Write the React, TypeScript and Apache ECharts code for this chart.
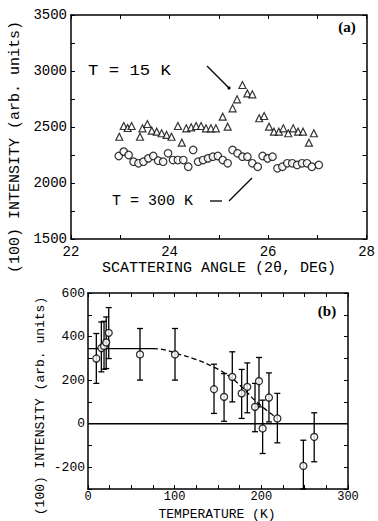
import React, { useEffect, useRef } from "react";
import * as echarts from "echarts";

// Panel (a): scattering angle scans
const angle15K = [22.98, 23.07, 23.15, 23.23, 23.40, 23.45, 23.55, 23.64, 23.74, 23.84, 23.94, 24.04, 24.17, 24.25, 24.34, 24.44, 24.54, 24.64, 24.74, 24.84, 24.94, 25.08, 25.18, 25.28, 25.37, 25.48, 25.58, 25.68, 25.82, 25.92, 26.02, 26.12, 26.22, 26.31, 26.41, 26.51, 26.61, 26.71, 26.83, 26.93];
const intensity15K = [2413, 2509, 2491, 2509, 2413, 2488, 2527, 2467, 2458, 2444, 2429, 2413, 2509, 2360, 2488, 2497, 2509, 2509, 2488, 2488, 2488, 2592, 2503, 2667, 2747, 2875, 2800, 2792, 2578, 2598, 2503, 2458, 2458, 2488, 2444, 2488, 2458, 2458, 2360, 2444];
const angle300K = [22.97, 23.07, 23.17, 23.27, 23.37, 23.47, 23.57, 23.67, 23.77, 23.87, 23.97, 24.07, 24.17, 24.28, 24.38, 24.48, 24.58, 24.68, 24.78, 24.88, 24.98, 25.08, 25.18, 25.28, 25.38, 25.48, 25.58, 25.68, 25.79, 25.89, 25.99, 26.09, 26.19, 26.29, 26.39, 26.49, 26.59, 26.69, 26.79, 26.89, 27.03];
const intensity300K = [2241, 2280, 2250, 2190, 2176, 2190, 2220, 2241, 2199, 2190, 2265, 2205, 2205, 2205, 2145, 2295, 2190, 2205, 2220, 2235, 2241, 2205, 2176, 2295, 2265, 2235, 2235, 2176, 2145, 2241, 2220, 2235, 2131, 2145, 2176, 2176, 2161, 2176, 2176, 2145, 2161];

// Panel (b): temperature dependence
const temps = [9.6, 15.4, 18.5, 21, 23.9, 60, 100.4, 145.4, 157, 166.5, 177.3, 183.8, 192.7, 197.3, 201.5, 208.8, 218.5, 248.5, 261];
const tempIntensity = [299, 347, 357, 373, 417, 318, 318, 158, 123, 215, 139, 169, 77, 195, -22, 120, 24, -194, -61];
const errLow = [185, 238, 250, 253, 299, 200, 200, 47, 11, 100, 24, 50, -37, 77, -137, 8, -88, -300, -175];
const errHigh = [414, 467, 470, 490, 533, 437, 437, 273, 230, 330, 249, 279, 185, 304, 108, 233, 139, -76, 50];
const fitSolidT = [0, 75];
const fitSolidI = [345, 345];
const fitDashT = [75, 90, 102, 121.5, 144.6, 163.8, 179, 194.6, 218];
const fitDashI = [345, 338, 322, 299, 261, 215, 162, 100, 25];
const zeroT = [0, 300];
const zeroI = [0, 0];

const MONO = "Liberation Mono";

export default function App() {
  const ref = useRef<HTMLDivElement>(null);
  useEffect(() => {
    document.body.style.margin = "0";
    const chart = echarts.init(ref.current!, null, { renderer: "svg" });
    const axisLine = { show: true, onZero: false, lineStyle: { color: "#000", width: 1.5 } };
    const tick = { show: true, inside: true, length: 4, lineStyle: { color: "#000", width: 1 } };
    const noLabel = { show: false };
    const option: any = {
      animation: false,
      backgroundColor: "#fff",
      grid: [
        { left: 71, top: 15, width: 299, height: 224 },
        { left: 88, top: 293, width: 260, height: 196 },
      ],
      xAxis: [
        {
          gridIndex: 0, type: "value", min: 22, max: 28, interval: 1, position: "bottom",
          axisLine, axisTick: tick, splitLine: { show: false },
          axisLabel: { formatter: (v: number) => (v % 2 === 0 ? String(v) : ""), color: "#000", fontFamily: MONO, fontSize: 14, margin: 6 },
        },
        { gridIndex: 0, type: "value", min: 22, max: 28, interval: 1, position: "top", axisLine, axisTick: tick, splitLine: { show: false }, axisLabel: noLabel },
        {
          gridIndex: 1, type: "value", min: 0, max: 300, interval: 25, position: "bottom",
          axisLine, axisTick: tick, splitLine: { show: false },
          axisLabel: { formatter: (v: number) => (v % 100 === 0 ? String(v) : ""), color: "#000", fontFamily: MONO, fontSize: 12, margin: 2 },
        },
        { gridIndex: 1, type: "value", min: 0, max: 300, interval: 25, position: "top", axisLine, axisTick: tick, splitLine: { show: false }, axisLabel: noLabel },
      ],
      yAxis: [
        {
          gridIndex: 0, type: "value", min: 1500, max: 3500, interval: 250, position: "left",
          axisLine, axisTick: tick, splitLine: { show: false },
          axisLabel: { formatter: (v: number) => (v % 500 === 0 ? String(v) : ""), color: "#000", fontFamily: MONO, fontSize: 14, margin: 4 },
        },
        { gridIndex: 0, type: "value", min: 1500, max: 3500, interval: 250, position: "right", axisLine, axisTick: tick, splitLine: { show: false }, axisLabel: noLabel },
        {
          gridIndex: 1, type: "value", min: -300, max: 600, interval: 100, position: "left",
          axisLine, axisTick: tick, splitLine: { show: false },
          axisLabel: { formatter: (v: number) => (v % 200 === 0 ? String(v) : ""), color: "#000", fontFamily: MONO, fontSize: 13, margin: 3 },
        },
        { gridIndex: 1, type: "value", min: -300, max: 600, interval: 100, position: "right", axisLine, axisTick: tick, splitLine: { show: false }, axisLabel: noLabel },
      ],
      series: [
        {
          type: "scatter", xAxisIndex: 0, yAxisIndex: 0, symbol: "triangle", symbolSize: 7,
          itemStyle: { color: "#fff", borderColor: "#000", borderWidth: 1.2 },
          data: angle15K.map((a, i) => [a, intensity15K[i]]),
        },
        {
          type: "scatter", xAxisIndex: 0, yAxisIndex: 0, symbol: "circle", symbolSize: 7.5,
          itemStyle: { color: "#fff", borderColor: "#000", borderWidth: 1.2 },
          data: angle300K.map((a, i) => [a, intensity300K[i]]),
        },
        {
          type: "line", xAxisIndex: 2, yAxisIndex: 2, symbol: "none",
          lineStyle: { color: "#000", width: 1.5 },
          data: zeroT.map((t, i) => [t, zeroI[i]]),
        },
        {
          type: "line", xAxisIndex: 2, yAxisIndex: 2, symbol: "none",
          lineStyle: { color: "#000", width: 1.3 },
          data: fitSolidT.map((t, i) => [t, fitSolidI[i]]),
        },
        {
          type: "line", xAxisIndex: 2, yAxisIndex: 2, symbol: "none", smooth: true,
          lineStyle: { color: "#000", width: 1.3, type: [5, 3] },
          data: fitDashT.map((t, i) => [t, fitDashI[i]]),
        },
        {
          type: "custom", xAxisIndex: 2, yAxisIndex: 2,
          data: temps.map((t, i) => [t, errLow[i], errHigh[i]]),
          renderItem: (params: any, api: any) => {
            const x = api.value(0);
            const lo = api.coord([x, api.value(1)]);
            const hi = api.coord([x, api.value(2)]);
            const cap = 3;
            const style = { stroke: "#000", lineWidth: 1.3 };
            return {
              type: "group",
              children: [
                { type: "line", shape: { x1: lo[0], y1: lo[1], x2: hi[0], y2: hi[1] }, style },
                { type: "line", shape: { x1: hi[0] - cap, y1: hi[1], x2: hi[0] + cap, y2: hi[1] }, style },
                { type: "line", shape: { x1: lo[0] - cap, y1: lo[1], x2: lo[0] + cap, y2: lo[1] }, style },
              ],
            };
          },
        },
        {
          type: "scatter", xAxisIndex: 2, yAxisIndex: 2, symbol: "circle", symbolSize: 7,
          itemStyle: { color: "#fff", borderColor: "#000", borderWidth: 1.3 },
          data: temps.map((t, i) => [t, tempIntensity[i]]),
          z: 5,
        },
      ],
      graphic: [
        { type: "text", x: 88, y: 71, scaleX: 1.15, style: { text: "T = 15 K", font: `15px "${MONO}"`, fill: "#000", verticalAlign: "middle" } },
        { type: "line", shape: { x1: 207, y1: 66, x2: 229, y2: 88 }, style: { stroke: "#000", lineWidth: 1.3 } },
        { type: "circle", shape: { cx: 229, cy: 88, r: 1.6 }, style: { fill: "#000" } },
        { type: "text", x: 112, y: 201, style: { text: "T = 300 K", font: `15px "${MONO}"`, fill: "#000", verticalAlign: "middle" } },
        { type: "line", shape: { x1: 210, y1: 201, x2: 222, y2: 201 }, style: { stroke: "#000", lineWidth: 1.3 } },
        { type: "line", shape: { x1: 229, y1: 201, x2: 252, y2: 178 }, style: { stroke: "#000", lineWidth: 1.3 } },
        { type: "text", x: 347, y: 27, style: { text: "(a)", font: `bold 15px "Liberation Serif"`, fill: "#000", align: "center", verticalAlign: "middle" } },
        { type: "text", x: 327, y: 311, style: { text: "(b)", font: `bold 15px "Liberation Serif"`, fill: "#000", align: "center", verticalAlign: "middle" } },
        { type: "text", x: 219, y: 268, style: { text: "SCATTERING ANGLE (2θ, DEG)", font: `15px "${MONO}"`, fill: "#000", align: "center", verticalAlign: "middle" } },
        { type: "text", x: 217, y: 514, style: { text: "TEMPERATURE (K)", font: `13px "${MONO}"`, fill: "#000", align: "center", verticalAlign: "middle" } },
        { type: "text", x: 15, y: 147, rotation: Math.PI / 2, style: { text: "(100) INTENSITY (arb. units)", font: `15px "${MONO}"`, fill: "#000", align: "center", verticalAlign: "middle" } },
        { type: "text", x: 40, y: 406, rotation: Math.PI / 2, style: { text: "(100) INTENSITY (arb. units)", font: `13px "${MONO}"`, fill: "#000", align: "center", verticalAlign: "middle" } },
      ],
    };
    chart.setOption(option);
    return () => chart.dispose();
  }, []);
  return <div ref={ref} style={{ position: "absolute", left: 0, top: 0, width: 378, height: 521 }} />;
}
